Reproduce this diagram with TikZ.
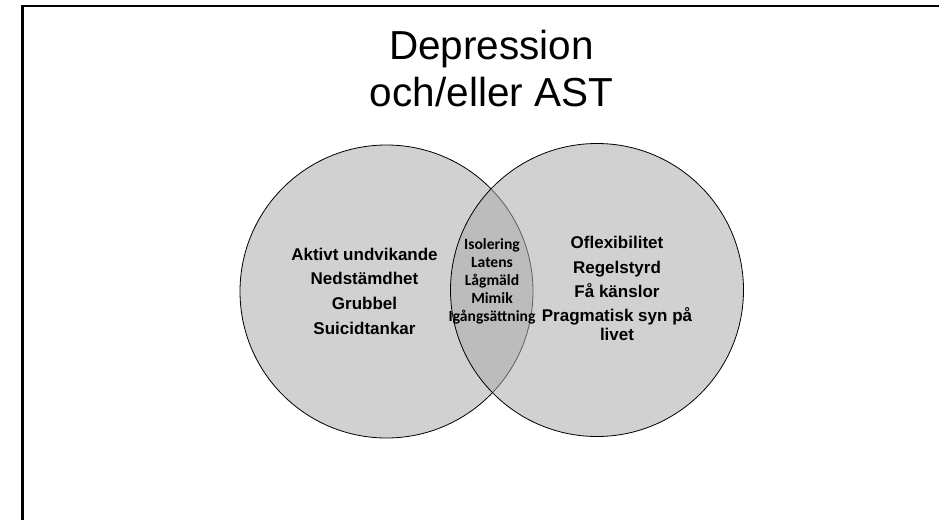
\documentclass[tikz,border=0pt]{standalone}
\usepackage{fontspec}
\setmainfont{Liberation Sans}
\newfontfamily\calfont{Carlito}
\begin{document}
\begin{tikzpicture}[x=1pt,y=-1pt,
  setcircle/.style={circle, draw=black, line width=0.8pt, fill=black!33, fill opacity=0.55, minimum size=293pt, inner sep=0pt},
  titletext/.style={anchor=base, inner sep=0pt, font=\fontsize{40.5}{47}\selectfont},
  sidetext/.style={anchor=base, inner sep=0pt, font=\fontsize{17}{20}\selectfont\bfseries},
  midtext/.style={anchor=base, inner sep=0pt, font=\fontsize{15.6}{18}\selectfont\calfont\bfseries}]
\useasboundingbox (0,0) rectangle (939,519);
\begin{scope}
\clip (0,0) rectangle (939,519);
\draw[line width=2.6pt] (22.5,6) rectangle (960,540);
\end{scope}
\node[titletext] (t1) at (491.5,59.3) {Depression};
\node[titletext] (t2) at (491.5,106.7) {och/eller AST};
\node[setcircle] (A) at (386.5,291.5) {};
\node[setcircle] (B) at (597,290) {};
\node[sidetext] (l1) at (364.5,260) {Aktivt undvikande};
\node[sidetext] (l2) at (364.5,284.8) {Nedstämdhet};
\node[sidetext] (l3) at (364.5,309.6) {Grubbel};
\node[sidetext] (l4) at (364.5,334.3) {Suicidtankar};
\node[midtext] (m1) at (492,249) {Isolering};
\node[midtext] (m2) at (492,267.4) {Latens};
\node[midtext] (m3) at (492,285.6) {Lågmäld};
\node[midtext] (m4) at (492,303.4) {Mimik};
\node[midtext] (m5) at (492,321.7) {Igångsättning};
\node[sidetext] (r1) at (617,248.3) {Oflexibilitet};
\node[sidetext] (r2) at (617,273) {Regelstyrd};
\node[sidetext] (r3) at (617,297.6) {Få känslor};
\node[sidetext] (r4) at (617,321.9) {Pragmatisk syn på};
\node[sidetext] (r5) at (617,340.2) {livet};
\end{tikzpicture}
\end{document}
